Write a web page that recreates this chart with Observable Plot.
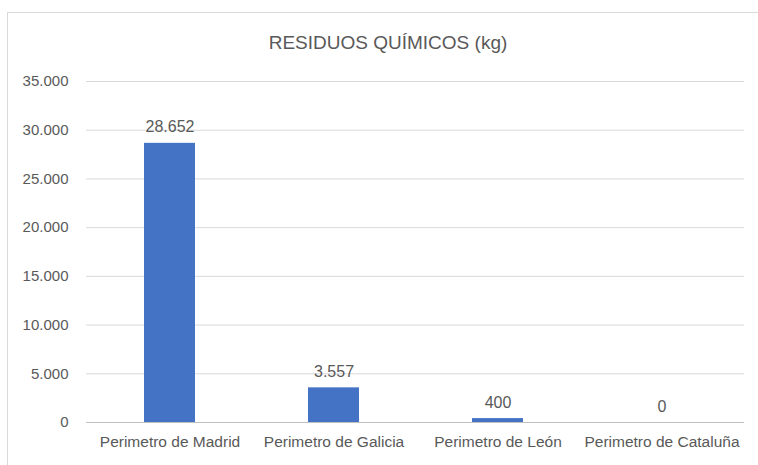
<!DOCTYPE html>
<html>
<head>
<meta charset="utf-8">
<script src="https://cdn.jsdelivr.net/npm/d3@7"></script>
<script src="https://cdn.jsdelivr.net/npm/@observablehq/plot@0.6"></script>
<style>
  html, body { margin: 0; padding: 0; background: #fff; }
  #wrap { position: relative; width: 758px; height: 465px; overflow: hidden; font-family: "Liberation Sans", Arial, sans-serif; }
  #frame { position: absolute; left: 7px; top: 12px; width: 800px; height: 500px; border: 1px solid #d9d9d9; box-sizing: border-box; }
  #title { position: absolute; left: 188px; width: 400px; top: 33px; text-align: center; font-size: 19px; line-height: 19px; color: #595959; }
  #chart { position: absolute; left: 0; top: 0; }
</style>
</head>
<body>
<div id="wrap">
  <div id="frame"></div>
  <div id="title">RESIDUOS QUÍMICOS (kg)</div>
  <div id="chart"></div>
</div>
<script>
const categories = ["Perimetro de Madrid", "Perimetro de Galicia", "Perimetro de León", "Perimetro de Cataluña"];
const values = [28652, 3557, 400, 0];
const yTicks = [0, 5000, 10000, 15000, 20000, 25000, 30000, 35000];

const data = categories.map((c, i) => ({category: c, value: values[i]}));
const es = d3.formatLocale({decimal: ",", thousands: ".", grouping: [3], currency: ["", " €"]});
const fmt = es.format(",d");

const chart = Plot.plot({
  width: 758,
  height: 465,
  marginLeft: 86,
  marginRight: 14,
  marginTop: 81,
  marginBottom: 43,
  style: {fontFamily: "'Liberation Sans', Arial, sans-serif", color: "#595959", background: "transparent"},
  x: {domain: categories, paddingInner: 0.69, paddingOuter: 0.345, label: null},
  y: {domain: [0, 35000], label: null},
  marks: [
    Plot.gridY(yTicks, {stroke: "#d9d9d9", strokeOpacity: 1, strokeWidth: 1}),
    Plot.axisY(yTicks, {tickSize: 0, tickPadding: 18, tickFormat: fmt, fontSize: 15, fill: "#595959", label: null}),
    Plot.axisX({tickSize: 0, tickPadding: 13, fontSize: 15.5, fill: "#595959", label: null}),
    Plot.barY(data, {x: "category", y: "value", fill: "#4472c4"}),
    Plot.ruleY([0], {stroke: "#bfbfbf", strokeWidth: 1}),
    Plot.text(data, {x: "category", y: "value", text: d => fmt(d.value), lineAnchor: "bottom", dy: -11, fontSize: 16, fill: "#595959"})
  ]
});
document.getElementById("chart").appendChild(chart);
</script>
</body>
</html>
